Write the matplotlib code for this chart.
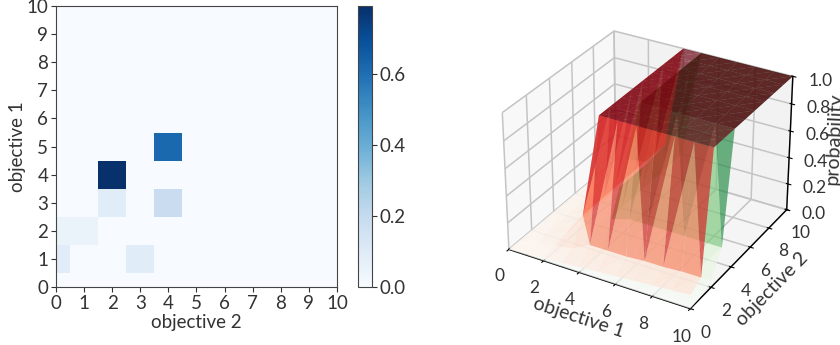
import numpy as np
import matplotlib
matplotlib.use("Agg")
import matplotlib.pyplot as plt

plt.rcParams['font.family'] = ['Lato', 'DejaVu Sans']
plt.rcParams['grid.color'] = '#c4c4c4'
plt.rcParams['grid.linewidth'] = 1.1
TEXT = '#333333'

grid_values = [0, 1, 2, 3, 4, 5, 6, 7, 8, 9, 10]
# probability heatmap: rows = objective 1, columns = objective 2
heat = np.zeros((11, 11))
heat[1, 0] = 0.09
heat[1, 3] = 0.09
heat[2, 0] = 0.05
heat[2, 1] = 0.05
heat[3, 2] = 0.09
heat[3, 4] = 0.18
heat[4, 2] = 0.79
heat[5, 4] = 0.62

red_z = [
    [0.00, 0.01, 0.02, 0.03, 0.04, 0.05, 0.06, 0.07, 0.08, 0.09, 0.10],
    [0.00, 0.02, 0.04, 0.06, 0.13, 0.13, 0.13, 0.14, 0.14, 0.15, 0.15],
    [0.00, 0.04, 0.06, 0.24, 1.00, 1.00, 1.00, 1.00, 1.00, 1.00, 1.00],
    [0.00, 0.04, 0.06, 0.24, 1.00, 1.00, 1.00, 1.00, 1.00, 1.00, 1.00],
    [0.00, 0.04, 0.06, 0.24, 1.00, 1.00, 1.00, 1.00, 1.00, 1.00, 1.00],
    [0.00, 0.04, 0.06, 0.24, 1.00, 1.00, 1.00, 1.00, 1.00, 1.00, 1.00],
    [0.00, 0.04, 0.06, 0.24, 1.00, 1.00, 1.00, 1.00, 1.00, 1.00, 1.00],
    [0.00, 0.04, 0.06, 0.24, 1.00, 1.00, 1.00, 1.00, 1.00, 1.00, 1.00],
    [0.00, 0.04, 0.06, 0.24, 1.00, 1.00, 1.00, 1.00, 1.00, 1.00, 1.00],
    [0.00, 0.04, 0.06, 0.24, 1.00, 1.00, 1.00, 1.00, 1.00, 1.00, 1.00],
    [0.00, 0.04, 0.06, 0.24, 1.00, 1.00, 1.00, 1.00, 1.00, 1.00, 1.00],
]
green_z = [
    [0.00, 0.00, 0.00, 0.00, 0.00, 0.00, 0.00, 0.00, 0.00, 0.00, 0.00],
    [0.00, 0.00, 0.00, 0.00, 0.00, 0.01, 0.01, 0.01, 0.01, 0.01, 0.01],
    [0.00, 0.01, 0.02, 0.02, 0.03, 0.05, 0.05, 0.05, 0.05, 0.05, 0.05],
    [0.00, 0.02, 0.03, 0.04, 0.18, 0.22, 0.22, 0.22, 0.22, 0.22, 0.22],
    [0.00, 0.03, 0.05, 0.05, 0.20, 1.00, 1.00, 1.00, 1.00, 1.00, 1.00],
    [0.00, 0.03, 0.05, 0.05, 0.20, 1.00, 1.00, 1.00, 1.00, 1.00, 1.00],
    [0.00, 0.03, 0.05, 0.05, 0.20, 1.00, 1.00, 1.00, 1.00, 1.00, 1.00],
    [0.00, 0.03, 0.05, 0.05, 0.20, 1.00, 1.00, 1.00, 1.00, 1.00, 1.00],
    [0.00, 0.03, 0.05, 0.05, 0.20, 1.00, 1.00, 1.00, 1.00, 1.00, 1.00],
    [0.00, 0.03, 0.05, 0.05, 0.20, 1.00, 1.00, 1.00, 1.00, 1.00, 1.00],
    [0.00, 0.03, 0.05, 0.05, 0.20, 1.00, 1.00, 1.00, 1.00, 1.00, 1.00],
]
# mesh cells (row, col) whose diagonal runs the other way
red_flipped_cells = [(1, 3), (1, 6), (1, 9), (3, 3), (6, 3), (8, 3)]
green_flipped_cells = [(3, 7), (3, 9), (5, 4), (7, 4)]


def mesh_triangles(flipped, n=len(grid_values)):
    tris = []
    for r in range(n - 1):
        for c in range(n - 1):
            a, b = r * n + c, r * n + c + 1
            d, e = (r + 1) * n + c, (r + 1) * n + c + 1
            if (r, c) in flipped:
                tris += [[a, b, d], [b, e, d]]
            else:
                tris += [[a, b, e], [a, e, d]]
    return np.array(tris)


W, H = 840, 345
fig = plt.figure(figsize=(W / 100, H / 100), dpi=100)

# --- heatmap
ax = fig.add_axes([56 / W, 1 - 287 / H, 281 / W, 281 / H])
im = ax.imshow(heat, origin='lower', cmap='Blues', aspect='equal', interpolation='nearest')
ax.set_xlim(0, 10)
ax.set_ylim(0, 10)
ax.set_xticks(grid_values)
ax.set_yticks(grid_values)
ax.tick_params(labelsize=13.5, colors=TEXT, length=3.5, pad=2)
ax.set_xlabel('objective 2', fontsize=13.5, color=TEXT, labelpad=2)
ax.set_ylabel('objective 1', fontsize=13.5, color=TEXT, labelpad=0)
for s in ax.spines.values():
    s.set_color('#444444')

cax = fig.add_axes([358 / W, 1 - 287 / H, 14 / W, 281 / H])
cb = fig.colorbar(im, cax=cax)
cb.set_ticks([0.0, 0.2, 0.4, 0.6])
cb.ax.tick_params(labelsize=13.5, colors=TEXT, length=3.5, pad=2)
cb.outline.set_edgecolor('#444444')

# --- 3D surfaces
ax3 = fig.add_axes([458 / W, 1 - 329 / H, 376 / W, 323 / H], projection='3d')
X, Y = np.meshgrid(grid_values, grid_values)
ax3.plot_trisurf(X.ravel().astype(float), Y.ravel().astype(float), np.array(green_z).ravel(),
                 triangles=mesh_triangles(green_flipped_cells), cmap='Greens',
                 vmin=0, vmax=1, alpha=0.68, linewidth=0, antialiased=True)
ax3.plot_trisurf(X.ravel().astype(float), Y.ravel().astype(float), np.array(red_z).ravel(),
                 triangles=mesh_triangles(red_flipped_cells), cmap='Reds',
                 vmin=0, vmax=1, alpha=0.68, linewidth=0, antialiased=True)
ax3.set_xlim(0, 10)
ax3.set_ylim(0, 10)
ax3.set_zlim(0, 1)
ax3.set_xticks([0, 2, 4, 6, 8, 10])
ax3.set_yticks([0, 2, 4, 6, 8, 10])
ax3.set_zticks([0, 0.2, 0.4, 0.6, 0.8, 1.0])
ax3.tick_params(labelsize=12.5, pad=2, colors=TEXT)
ax3.tick_params(axis='z', pad=4)
for a in (ax3.xaxis, ax3.yaxis, ax3.zaxis):
    a.line.set_color('black')
    a.line.set_linewidth(1.0)
    a.set_tick_params(color='black', width=1.0)
ax3.set_xlabel('objective 1', fontsize=14, color=TEXT, labelpad=-1)
ax3.set_ylabel('objective 2', fontsize=14, color=TEXT, labelpad=0)
ax3.set_zlabel('probability', fontsize=14, color=TEXT, labelpad=-1)
ax3.view_init(elev=30, azim=-60)

fig.savefig('out.png', dpi=100)
